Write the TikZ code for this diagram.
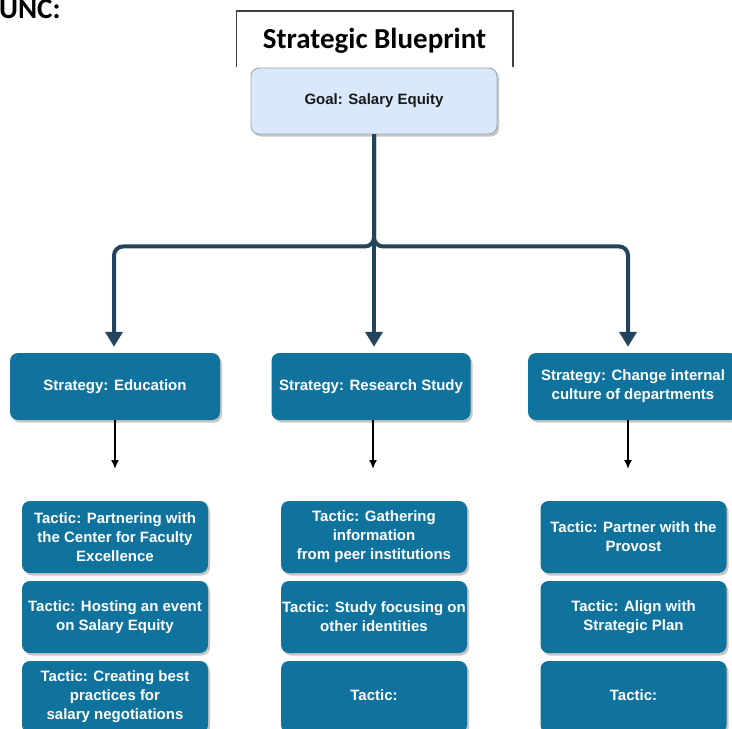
\documentclass[tikz,border=0pt]{standalone}
\usepackage{fontspec}
\setsansfont{Liberation Sans}
\newfontfamily\carlito{Carlito}
\usetikzlibrary{arrows.meta,shadows}
\definecolor{boxblue}{HTML}{10739E}
\definecolor{goalfill}{HTML}{DAE8FC}
\definecolor{goalline}{HTML}{9FA6AE}
\definecolor{trunkcol}{HTML}{23445D}
\definecolor{framecol}{HTML}{404040}
\begin{document}
\begin{tikzpicture}[x=1pt,y=-1pt,
  boxshadow/.style={drop shadow={shadow xshift=2pt,shadow yshift=-2.5pt,fill=black,opacity=0.22}},
  bluebox/.style={rectangle,rounded corners=8pt,fill=boxblue,draw=none,text=white,
    font=\sffamily\bfseries\fontsize{15}{19}\selectfont,align=center,inner sep=0pt,boxshadow},
  stratbox/.style={bluebox,minimum height=67pt},
  tacbox/.style={bluebox,minimum width=186pt,minimum height=72pt},
  goalbox/.style={rectangle,rounded corners=8pt,fill=goalfill,draw=goalline,line width=0.9pt,
    text=black!90,font=\sffamily\bfseries\fontsize{15}{19}\selectfont,align=center,inner sep=0pt,
    minimum width=246pt,minimum height=66pt,boxshadow},
  trunk/.style={draw=trunkcol,line width=4pt,rounded corners=9pt,
    -{Triangle[width=17pt,length=15pt]},shorten >=6pt},
  thinarrow/.style={draw=black,line width=1.6pt,-{Latex[length=9pt,width=8pt]}},
  titlefont/.style={font=\carlito\bfseries\fontsize{29}{34}\selectfont,inner sep=0pt}
]
\useasboundingbox (0,0) rectangle (732,729);
\clip (0,0) rectangle (732,729);

% top-left label and title frame
\node[titlefont,anchor=base west] (unc) at (-1,18) {UNC:};
\coordinate (fbl) at (236.7,67);
\coordinate (ftr) at (513,11);
\coordinate (fbr) at (513,67);
\draw[framecol,line width=1.2pt] (fbl) |- (ftr) -- (fbr);
\node[titlefont,anchor=base] (title) at (374.5,48) {Strategic Blueprint};

% goal
\node[goalbox] (goal) at (374,101) {Goal: Salary Equity};

% strategies
\node[stratbox,minimum width=210pt] (s1) at (115,386.5) {\strut Strategy: Education};
\node[stratbox,minimum width=199pt] (s2) at (371,386.5) {\strut Strategy: Research Study};
\node[stratbox,minimum width=210pt] (s3) at (633,386.5) {Strategy: Change internal\\culture of departments};

% trunk connectors
\draw[trunk] (goal.south) -- ++(0,112) -| ([xshift=-1pt]s1.north);
\draw[trunk] (goal.south) -- (goal.south |- s2.north);
\draw[trunk] (goal.south) -- ++(0,112) -| ([xshift=-5pt]s3.north);

% tactics
\node[tacbox] (t11) at (115,537) {Tactic: Partnering with\\the Center for Faculty\\Excellence};
\node[tacbox] (t12) at (115,617) {Tactic: Hosting an event\\on Salary Equity};
\node[tacbox] (t13) at (115,697) {Tactic: Creating best\\practices for\\salary negotiations};

\node[tacbox] (t21) at (374,537) {Tactic: Gathering\\information\\from peer institutions};
\node[tacbox] (t22) at (374,617) {Tactic: Study focusing on\\other identities};
\node[tacbox] (t23) at (374,697) {\strut Tactic:};

\node[tacbox] (t31) at (633.5,537) {Tactic: Partner with the\\Provost};
\node[tacbox] (t32) at (633.5,617) {Tactic: Align with\\Strategic Plan};
\node[tacbox] (t33) at (633.5,697) {\strut Tactic:};

% thin arrows
\coordinate (a1) at (115,469);
\coordinate (a2) at (373,469);
\coordinate (a3) at (628,469);
\draw[thinarrow] (s1.south -| a1) -- (a1);
\draw[thinarrow] (s2.south -| a2) -- (a2);
\draw[thinarrow] (s3.south -| a3) -- (a3);
\end{tikzpicture}
\end{document}
